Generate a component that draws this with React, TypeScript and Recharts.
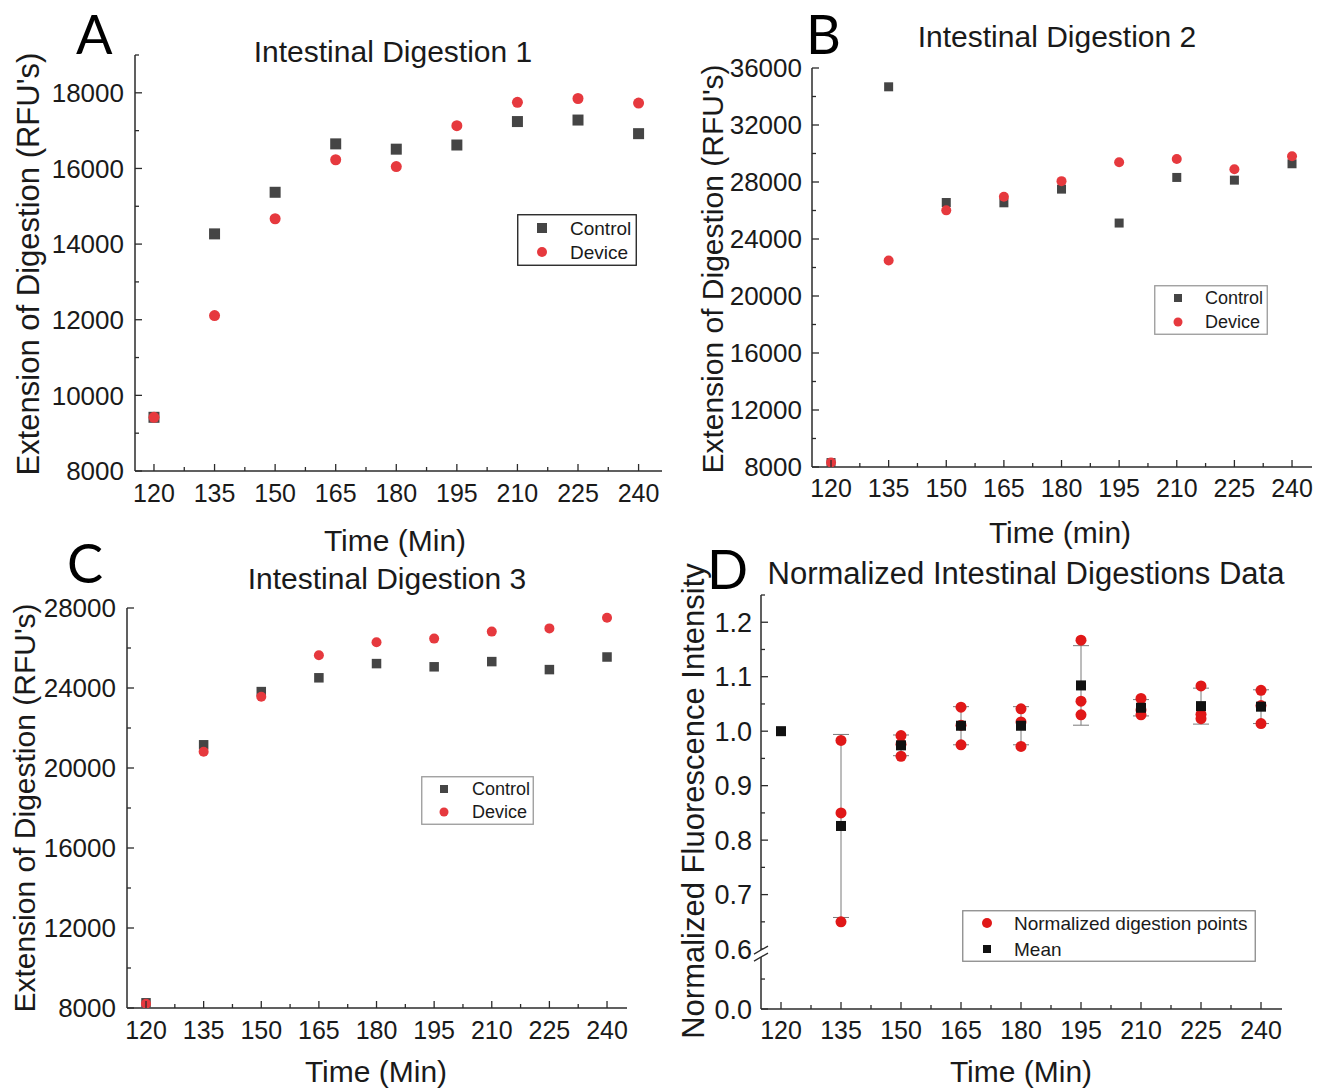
import React from 'react';
import { ScatterChart, Scatter, XAxis, YAxis, ErrorBar, Legend } from 'recharts';

const FONT = '"Liberation Sans", Arial, sans-serif';
const INK = '#1a1a1a';
const AXIS = '#2b2b2b';
const GREY = '#454545';
const RED = '#e6393e';
const RED_D = '#e01818';

// sampling times (min)
const times = [120, 135, 150, 165, 180, 195, 210, 225, 240];
const timeMinor = [127.5, 142.5, 157.5, 172.5, 187.5, 202.5, 217.5, 232.5];

// A - Intestinal Digestion 1
const controlA = [9420, 14270, 15370, 16650, 16510, 16620, 17240, 17280, 16920];
const deviceA = [9420, 12110, 14670, 16230, 16050, 17130, 17750, 17850, 17730];
const yMajorA = [8000, 10000, 12000, 14000, 16000, 18000];
const yMinorA = [9000, 11000, 13000, 15000, 17000, 19000];

// B - Intestinal Digestion 2
const controlB = [8310, 34680, 26560, 26540, 27500, 25120, 28320, 28130, 29280];
const deviceB = [8310, 22490, 26010, 26970, 28060, 29380, 29620, 28900, 29810];
const yMajorB = [8000, 12000, 16000, 20000, 24000, 28000, 32000, 36000];
const yMinorB = [10000, 14000, 18000, 22000, 26000, 30000, 34000];

// C - Intestinal Digestion 3
const controlC = [8260, 21160, 23820, 24510, 25220, 25060, 25320, 24920, 25550];
const deviceC = [8210, 20810, 23560, 25640, 26290, 26470, 26820, 26980, 27510];
const yMajorC = [8000, 12000, 16000, 20000, 24000, 28000];
const yMinorC = [10000, 14000, 18000, 22000, 26000];

// D - normalized data (three digestions, mean, sd); 120 min is the baseline, only the mean is drawn there
const normRep1 = [null, 0.983, 0.992, 1.044, 1.041, 1.167, 1.06, 1.083, 1.075];
const normRep2 = [null, 0.85, 0.976, 1.011, 1.017, 1.055, 1.039, 1.031, 1.047];
const normRep3 = [null, 0.65, 0.954, 0.975, 0.972, 1.03, 1.03, 1.023, 1.014];
const normMean = [1.0, 0.826, 0.974, 1.01, 1.01, 1.084, 1.043, 1.046, 1.045];
const normSd = [0, 0.168, 0.019, 0.035, 0.035, 0.073, 0.015, 0.033, 0.031];
const yMajorD = [0.0, 0.6, 0.7, 0.8, 0.9, 1.0, 1.1, 1.2];
const yMinorD = [0.3, 0.65, 0.75, 0.85, 0.95, 1.05, 1.15, 1.25];

// broken axis: 0 - 0.6 squeezed into a short segment under 0.6
const BREAK_AT = 0.6;
const BREAK_FLOOR = 0.49;
const toAxisD = (v: number) => (v >= BREAK_AT ? v : BREAK_FLOOR + (v / BREAK_AT) * (BREAK_AT - BREAK_FLOOR));
const fromAxisD = (a: number) =>
  a >= BREAK_AT ? a : ((a - BREAK_FLOOR) / (BREAK_AT - BREAK_FLOOR)) * BREAK_AT;

const pts = (ys: number[]) => times.map((t, i) => ({ x: t, y: ys[i] }));
const sortNum = (a: number[]) => [...a].sort((p, q) => p - q);
const isIn = (arr: number[], v: number) => arr.some((m) => Math.abs(m - v) < 1e-6);

const square = (s: number, fill: string) => (p: any) =>
  <rect x={p.cx - s / 2} y={p.cy - s / 2} width={s} height={s} fill={fill} />;
const dot = (s: number, fill: string) => (p: any) => <circle cx={p.cx} cy={p.cy} r={s / 2} fill={fill} />;

const makeYTick = (major: number[], pad: number, fontSize: number, fmt: (v: number) => string, extra?: (v: number, ax: number, y: number) => React.ReactNode) =>
  (props: any) => {
    const { x, y, payload } = props;
    const v = payload.value;
    const ax = x + pad;
    const big = isIn(major, v);
    return (
      <g>
        <line x1={ax} x2={ax + (big ? 7 : 4)} y1={y} y2={y} stroke={AXIS} strokeWidth={1.3} />
        {big && (
          <text x={x} y={y} dy="0.36em" textAnchor="end" fontSize={fontSize} fontFamily={FONT} fill={INK}>
            {fmt(v)}
          </text>
        )}
        {extra && extra(v, ax, y)}
      </g>
    );
  };

const makeXTick = (pad: number, fontSize: number) => (props: any) => {
  const { x, y, payload } = props;
  const v = payload.value;
  const ay = y - pad;
  const big = isIn(times, v);
  return (
    <g>
      <line x1={x} x2={x} y1={ay} y2={ay - (big ? 7 : 4)} stroke={AXIS} strokeWidth={1.3} />
      {big && (
        <text x={x} y={y} dy="0.36em" textAnchor="middle" fontSize={fontSize} fontFamily={FONT} fill={INK}>
          {v}
        </text>
      )}
    </g>
  );
};

type LegendItem = { label: string; shape: 'square' | 'circle'; color: string; size: number };

const LegendBox = ({ items, w, h, border, fontSize, markerX, textX, rows }: {
  items: LegendItem[]; w: number; h: number; border: string; fontSize: number; markerX: number; textX: number; rows: number[];
}) => (
  <svg width={w} height={h} style={{ display: 'block' }}>
    <rect x={0.75} y={0.75} width={w - 1.5} height={h - 1.5} fill="#fff" stroke={border} strokeWidth={1.3} />
    {items.map((it, i) => (
      <g key={it.label}>
        {it.shape === 'square' ? (
          <rect x={markerX - it.size / 2} y={rows[i] - it.size / 2} width={it.size} height={it.size} fill={it.color} />
        ) : (
          <circle cx={markerX} cy={rows[i]} r={it.size / 2} fill={it.color} />
        )}
        <text x={textX} y={rows[i]} dy="0.36em" fontSize={fontSize} fontFamily={FONT} fill={INK}>
          {it.label}
        </text>
      </g>
    ))}
  </svg>
);

type Box = { left: number; top: number; width: number; height: number };
type Plot = { l: number; t: number; r: number; b: number };

const chartMargin = (c: Box, p: Plot) => ({ top: p.t - c.top, right: c.left + c.width - p.r, left: 0, bottom: 0 });

const breakMark = (v: number, ax: number, y: number) =>
  Math.abs(v - BREAK_AT) < 1e-6 ? (
    <g>
      <polygon points={`${ax - 7},${y + 5} ${ax + 7},${y - 3} ${ax + 7},${y + 4} ${ax - 7},${y + 12}`} fill="#fff" />
      <line x1={ax - 7} y1={y + 5} x2={ax + 7} y2={y - 3} stroke={AXIS} strokeWidth={1.3} />
      <line x1={ax - 7} y1={y + 12} x2={ax + 7} y2={y + 4} stroke={AXIS} strokeWidth={1.3} />
    </g>
  ) : null;

type RawPanelProps = {
  box: Box; plot: Plot; xDomain: [number, number]; yDomain: [number, number];
  yMajor: number[]; yMinor: number[]; yPad: number; xPad: number;
  control: number[]; device: number[]; sq: number; ci: number;
  legendAt: { x: number; y: number; w: number; h: number; border: string; fontSize: number; markerX: number; textX: number; rows: number[]; sq: number; ci: number };
};

const RawPanel = ({ box, plot, xDomain, yDomain, yMajor, yMinor, yPad, xPad, control, device, sq, ci, legendAt }: RawPanelProps) => (
  <div style={{ position: 'absolute', left: box.left, top: box.top }}>
    <ScatterChart width={box.width} height={box.height} margin={chartMargin(box, plot)}>
      <XAxis
        type="number" dataKey="x" domain={xDomain} allowDataOverflow
        ticks={sortNum([...times, ...timeMinor])} interval={0}
        height={box.top + box.height - plot.b} tickSize={0} tickMargin={xPad}
        tick={makeXTick(xPad, 25)} tickLine={false} axisLine={{ stroke: AXIS, strokeWidth: 1.5 }}
      />
      <YAxis
        type="number" dataKey="y" domain={yDomain} allowDataOverflow
        ticks={sortNum([...yMajor, ...yMinor])} interval={0}
        width={plot.l - box.left} tickSize={0} tickMargin={yPad}
        tick={makeYTick(yMajor, yPad, 26, (v) => String(v))} tickLine={false} axisLine={{ stroke: AXIS, strokeWidth: 1.5 }}
      />
      <Scatter name="Control" data={pts(control)} shape={square(sq, GREY)} isAnimationActive={false} />
      <Scatter name="Device" data={pts(device)} shape={dot(ci, RED)} isAnimationActive={false} />
      <Legend
        layout="vertical" align="center" verticalAlign="middle"
        wrapperStyle={{ left: legendAt.x - box.left, top: legendAt.y - box.top, width: legendAt.w, height: legendAt.h }}
        content={() => (
          <LegendBox
            w={legendAt.w} h={legendAt.h} border={legendAt.border} fontSize={legendAt.fontSize}
            markerX={legendAt.markerX} textX={legendAt.textX} rows={legendAt.rows}
            items={[
              { label: 'Control', shape: 'square', color: GREY, size: legendAt.sq },
              { label: 'Device', shape: 'circle', color: RED, size: legendAt.ci },
            ]}
          />
        )}
      />
    </ScatterChart>
  </div>
);

const boxD: Box = { left: 670, top: 560, width: 654, height: 532 };
const plotD: Plot = { l: 761, t: 595, r: 1282, b: 1009 };

const NormalizedPanel = () => {
  const mean = times.map((t, i) => ({ x: t, y: toAxisD(normMean[i]), err: normSd[i] }));
  const reps = [normRep1, normRep2, normRep3].flatMap((r) =>
    times.map((t, i) => ({ x: t, v: r[i] })).filter((p) => p.v !== null).map((p) => ({ x: p.x, y: toAxisD(p.v as number) })),
  );
  return (
    <div style={{ position: 'absolute', left: boxD.left, top: boxD.top }}>
      <ScatterChart width={boxD.width} height={boxD.height} margin={chartMargin(boxD, plotD)}>
        <XAxis
          type="number" dataKey="x" domain={[115, 245.25]} allowDataOverflow
          ticks={sortNum([...times, ...timeMinor])} interval={0}
          height={boxD.top + boxD.height - plotD.b} tickSize={0} tickMargin={21}
          tick={makeXTick(21, 25)} tickLine={false} axisLine={{ stroke: AXIS, strokeWidth: 1.5 }}
        />
        <YAxis
          type="number" dataKey="y" domain={[BREAK_FLOOR, 1.25]} allowDataOverflow
          ticks={sortNum([...yMajorD, ...yMinorD].map(toAxisD))} interval={0}
          width={plotD.l - boxD.left} tickSize={0} tickMargin={9}
          tick={makeYTick(yMajorD.map(toAxisD), 9, 27, (a) => fromAxisD(a).toFixed(1), breakMark)}
          tickLine={false} axisLine={{ stroke: AXIS, strokeWidth: 1.5 }}
        />
        <Scatter name="sd" data={mean} shape={() => <g />} isAnimationActive={false}>
          <ErrorBar dataKey="err" direction="y" width={8} stroke="#7a7a7a" strokeWidth={1} />
        </Scatter>
        <Scatter name="Normalized digestion points" data={reps} shape={dot(11, RED_D)} isAnimationActive={false} />
        <Scatter name="Mean" data={mean} shape={square(10, '#111')} isAnimationActive={false} />
        <Legend
          layout="vertical" align="center" verticalAlign="middle"
          wrapperStyle={{ left: 962 - boxD.left, top: 910 - boxD.top, width: 294, height: 52 }}
          content={() => (
            <LegendBox
              w={294} h={52} border="#8a8a8a" fontSize={19} markerX={25} textX={52} rows={[13, 39]}
              items={[
                { label: 'Normalized digestion points', shape: 'circle', color: RED_D, size: 10 },
                { label: 'Mean', shape: 'square', color: '#111', size: 8 },
              ]}
            />
          )}
        />
      </ScatterChart>
    </div>
  );
};

const YTitle = ({ cx, cy, size, children }: { cx: number; cy: number; size: number; children: string }) => (
  <text x={cx} y={cy} transform={`rotate(-90 ${cx} ${cy})`} textAnchor="middle" dominantBaseline="central" fontSize={size} fill={INK}>
    {children}
  </text>
);

const App: React.FC = () => (
  <div style={{ position: 'absolute', left: 0, top: 0, width: 1324, height: 1092, background: '#fff', overflow: 'hidden' }}>
    <svg width={1324} height={1092} style={{ position: 'absolute', left: 0, top: 0 }} fontFamily={FONT}>
      <g fontFamily="Lato, sans-serif" fontSize={54} fill="#000">
        <text x={76} y={54}>A</text>
        <text x={806} y={54}>B</text>
        <text x={67} y={583}>C</text>
        <text x={707} y={589}>D</text>
      </g>
      <g fontSize={30} fill={INK} textAnchor="middle">
        <text x={393} y={62}>Intestinal Digestion 1</text>
        <text x={1057} y={47}>Intestinal Digestion 2</text>
        <text x={387} y={589}>Intestinal Digestion 3</text>
        <text x={1026} y={584} fontSize={31}>Normalized Intestinal Digestions Data</text>
        <text x={395} y={551}>Time (Min)</text>
        <text x={1060} y={543}>Time (min)</text>
        <text x={376} y={1082}>Time (Min)</text>
        <text x={1021} y={1082}>Time (Min)</text>
      </g>
      <YTitle cx={28} cy={264} size={31}>Extension of Digestion (RFU's)</YTitle>
      <YTitle cx={712} cy={269} size={30}>Extension of Digestion (RFU's)</YTitle>
      <YTitle cx={24} cy={808} size={30}>Extension of Digestion (RFU's)</YTitle>
      <YTitle cx={693} cy={801} size={31}>Normalized Fluorescence Intensity</YTitle>
    </svg>

    <RawPanel
      box={{ left: 0, top: 0, width: 670, height: 560 }} plot={{ l: 135, t: 55, r: 662, b: 471 }}
      xDomain={[115.3, 245.8]} yDomain={[8000, 19000]} yMajor={yMajorA} yMinor={yMinorA} yPad={11} xPad={22}
      control={controlA} device={deviceA} sq={11} ci={11}
      legendAt={{ x: 517, y: 214, w: 120, h: 52, border: '#1a1a1a', fontSize: 19, markerX: 25, textX: 53, rows: [14, 38], sq: 10, ci: 10 }}
    />
    <RawPanel
      box={{ left: 670, top: 0, width: 654, height: 560 }} plot={{ l: 812, t: 68, r: 1312, b: 467 }}
      xDomain={[115.05, 245.2]} yDomain={[8000, 36000]} yMajor={yMajorB} yMinor={yMinorB} yPad={10} xPad={21}
      control={controlB} device={deviceB} sq={9} ci={10}
      legendAt={{ x: 1154, y: 285, w: 114, h: 50, border: '#9a9a9a', fontSize: 18, markerX: 24, textX: 51, rows: [13, 37], sq: 8, ci: 9 }}
    />
    <RawPanel
      box={{ left: 0, top: 560, width: 670, height: 532 }} plot={{ l: 127, t: 608, r: 627, b: 1008 }}
      xDomain={[115.05, 245.2]} yDomain={[8000, 28000]} yMajor={yMajorC} yMinor={yMinorC} yPad={11} xPad={22}
      control={controlC} device={deviceC} sq={9.5} ci={10}
      legendAt={{ x: 421, y: 776, w: 113, h: 49, border: '#9a9a9a', fontSize: 18, markerX: 23, textX: 51, rows: [13, 36], sq: 8, ci: 9 }}
    />
    <NormalizedPanel />
  </div>
);

export default App;
